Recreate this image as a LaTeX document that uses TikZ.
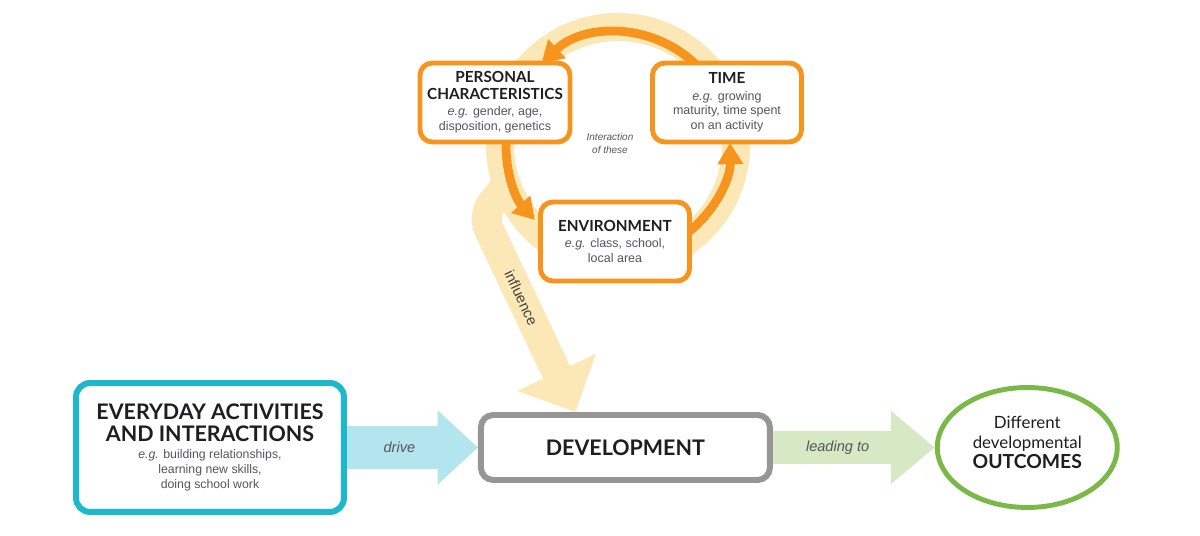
\documentclass[tikz,border=0pt]{standalone}
\usepackage{fontspec}
\setmainfont{Lato}
\newfontfamily\notefont{Liberation Sans}
\usetikzlibrary{arrows.meta,positioning,shapes.geometric,backgrounds,calc}

\definecolor{tealline}{RGB}{30,184,204}
\definecolor{drivecyan}{RGB}{178,229,237}
\definecolor{boxgray}{RGB}{150,150,150}
\definecolor{leadgreen}{RGB}{214,232,196}
\definecolor{leafgreen}{RGB}{122,184,72}
\definecolor{cycorange}{RGB}{247,148,30}
\definecolor{ringyellow}{RGB}{252,232,182}
\definecolor{inkblack}{RGB}{30,30,32}
\definecolor{notegray}{RGB}{85,86,90}

\newcommand\eg{\textit{e.g.}}
\newcommand\boxhead[1]{{\rmfamily\bfseries\fontsize{8.7}{9}\selectfont\color{inkblack}#1}}
\newcommand\bighead[1]{{\rmfamily\bfseries\fontsize{12.2}{13}\selectfont\color{inkblack}#1}}

\begin{document}
\begin{tikzpicture}[
  x=0.02cm,y=0.02cm,
  card/.style={draw=cycorange,line width=2.8pt,rounded corners=7pt,fill=white,
    minimum width=2.98cm,minimum height=1.58cm,align=center,inner sep=1pt,
    text=notegray,font=\notefont\fontsize{7.1}{8.4}\selectfont},
  bigcard/.style={draw=tealline,line width=3.4pt,rounded corners=8pt,fill=white,
    minimum width=5.36cm,minimum height=2.58cm,align=center,
    text=notegray,font=\notefont\fontsize{7}{8.5}\selectfont},
  devcard/.style={draw=boxgray,line width=3.4pt,rounded corners=7pt,fill=white,
    minimum width=5.78cm,minimum height=1.3cm,
    text=inkblack,font=\bfseries\fontsize{12.2}{12.5}\selectfont},
  result/.style={ellipse,draw=leafgreen,line width=2.8pt,fill=white,
    minimum width=3.6cm,minimum height=2.4cm,align=center,inner sep=0pt,
    text depth=5.6pt,text=inkblack,font=\fontsize{9.6}{11.4}\selectfont},
  arrowtext/.style={text=notegray,font=\notefont\itshape\fontsize{8.3}{9}\selectfont},
  drive/.style={line width=24pt,draw=drivecyan,-{Triangle[width=41pt,length=23pt]}},
  leads/.style={line width=19pt,draw=leadgreen,-{Triangle[width=40pt,length=25pt]}},
  influence/.style={line width=17pt,draw=ringyellow,rounded corners=9pt,
    -{Triangle[width=48pt,length=25pt]}},
  cycle/.style={line width=5pt,draw=cycorange,-{Triangle[width=14pt,length=12pt]}}
]
  \useasboundingbox (0,0) rectangle (1200,-536);

  \coordinate (cyc) at (618,-145);
  \node[card,minimum width=3.0cm] (personal) at (495,-102.5)
    {\boxhead{PERSONAL}\\[1pt]\boxhead{CHARACTERISTICS}\\[1pt]\eg{} gender, age,\\disposition, genetics};
  \node[card] (time) at (727,-102.5)
    {\boxhead{TIME}\\[1pt]\eg{} growing\\maturity, time spent\\on an activity};
  \node[card] (env) at (615,-241.5)
    {\boxhead{ENVIRONMENT}\\[0.5pt]\eg{} class, school,\\local area};
  \node[text=notegray,align=center,font=\notefont\itshape\fontsize{5.7}{7.4}\selectfont]
    (interaction) at (610,-143) {Interaction\\of these};

  \node[bigcard] (everyday) at (210,-447.5)
    {\bighead{EVERYDAY ACTIVITIES}\\[2.5pt]\bighead{AND INTERACTIONS}\\[1.5pt]
     \eg{} building relationships,\\learning new skills,\\doing school work};
  \node[devcard,right=2.62cm of everyday] (dev) {DEVELOPMENT};
  \node[result,right=3.24cm of dev] (outcome)
    {Different\\developmental\\{\bfseries\fontsize{11}{11}\selectfont OUTCOMES}};

  \coordinate (ringpt) at (507,-185);
  \coordinate (bend) at (482,-215);

  \begin{scope}[on background layer]
    \draw[ringyellow,line width=16pt] (cyc) circle[radius=118];
    \draw[influence] (ringpt) -- (bend) -- node[text=inkblack!85,font=\notefont\fontsize{8.3}{9}\selectfont,
      sloped,pos=.42]{influence} ($(dev.north)+(-50,0)$);
    \draw[cycle] ([shift={(45:112)}]cyc) arc[start angle=45,end angle=133,radius=112];
    \draw[cycle] ([shift={(175:112)}]cyc) arc[start angle=175,end angle=222,radius=112];
    \draw[cycle] ([shift={(-55:112)}]cyc) arc[start angle=-55,end angle=1,radius=112];
    \draw[drive] (everyday) -- node[arrowtext,pos=.4]{drive} (dev);
    \draw[leads] (dev) -- node[arrowtext,pos=.4]{leading to} (outcome);
  \end{scope}
\end{tikzpicture}
\end{document}
